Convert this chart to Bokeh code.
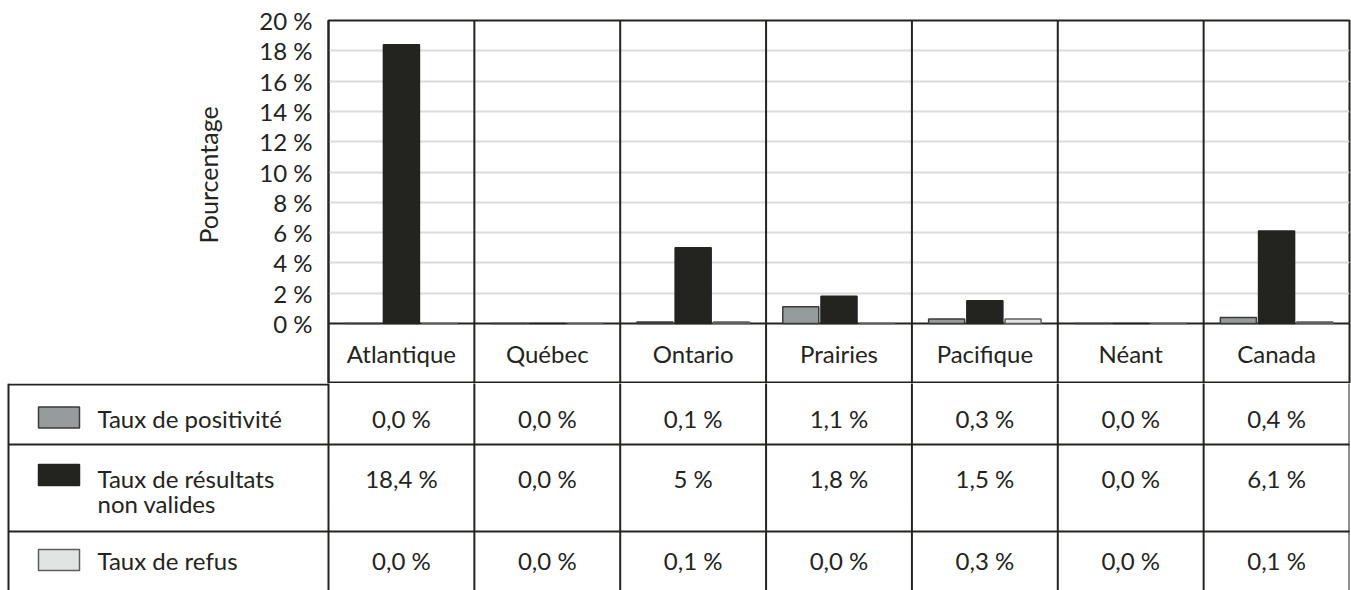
from bokeh.plotting import figure
from bokeh.layouts import column
from bokeh.models import Range1d, FixedTicker, ColumnDataSource, Title
from bokeh.transform import dodge
from bokeh.core.properties import value
from bokeh.embed import file_html
from bokeh.resources import INLINE

# --- data -------------------------------------------------------------
regions = ["Atlantique", "Québec", "Ontario", "Prairies", "Pacifique", "Néant", "Canada"]
taux_positivite = [0.0, 0.0, 0.1, 1.1, 0.3, 0.0, 0.4]
taux_non_valides = [18.4, 0.0, 5.0, 1.8, 1.5, 0.0, 6.1]
taux_refus = [0.0, 0.0, 0.1, 0.0, 0.3, 0.0, 0.1]

lbl_positivite = ["0,0 %", "0,0 %", "0,1 %", "1,1 %", "0,3 %", "0,0 %", "0,4 %"]
lbl_non_valides = ["18,4 %", "0,0 %", "5 %", "1,8 %", "1,5 %", "0,0 %", "6,1 %"]
lbl_refus = ["0,0 %", "0,0 %", "0,1 %", "0,0 %", "0,3 %", "0,0 %", "0,1 %"]

y_ticks = [0, 2, 4, 6, 8, 10, 12, 14, 16, 18, 20]
y_tick_labels = ["0 %", "2 %", "4 %", "6 %", "8 %", "10 %", "12 %", "14 %", "16 %", "18 %", "20 %"]

series_names = ["Taux de positivité", "Taux de résultats\nnon valides", "Taux de refus"]

# --- styling ----------------------------------------------------------
FONT = "Lato"
INK = "#232420"
FILL = ["#969b9b", "#232420", "#e2e4e4"]
EDGE = ["#3a3c3a", "#232420", "#5c5e5c"]
FS = "24px"

n = len(regions)
centers = [i + 0.5 for i in range(n)]
src = ColumnDataSource(dict(x=centers, pos=taux_positivite, inv=taux_non_valides, ref=taux_refus))

# --- bar chart (plot area plus the row of region names) ----------------
W = 1351
LEFT = 328
RIGHT = 2
TOP = 20
PLOT_H = 303            # pixels from 0 % to 20 %
NAME_ROW = 60           # pixels for the region-name row
px_per_pct = PLOT_H / 20.0
y_lo = -NAME_ROW / px_per_pct

chart = figure(width=W, height=TOP + PLOT_H + NAME_ROW, output_backend="svg",
               toolbar_location=None,
               x_range=Range1d(0, n), y_range=Range1d(y_lo, 20),
               x_axis_location=None, min_border_left=LEFT, min_border_right=RIGHT,
               min_border_top=TOP, min_border_bottom=0)
chart.frame_align = False
chart.background_fill_color = "white"
chart.border_fill_color = "white"
chart.outline_line_color = INK
chart.outline_line_width = 2
chart.xgrid.visible = False
chart.ygrid.ticker = FixedTicker(ticks=y_ticks[1:-1])
chart.ygrid.grid_line_color = "#dadcdc"
chart.ygrid.grid_line_width = 2

ax = chart.yaxis[0]
ax.ticker = FixedTicker(ticks=y_ticks)
ax.major_label_overrides = {t: s for t, s in zip(y_ticks, y_tick_labels)}
ax.major_tick_in = 0
ax.major_tick_out = 0
ax.minor_tick_line_color = None
ax.axis_line_color = INK
ax.axis_line_width = 2
ax.major_label_standoff = 16
ax.major_label_text_font = FONT
ax.major_label_text_font_size = FS
ax.major_label_text_color = INK

# vertical axis title, kept level with the 0-20 % span
chart.add_layout(Title(text="Pourcentage", align="left", offset=140, standoff=68,
                       text_font=FONT, text_font_size="25px", text_color=INK,
                       text_font_style="normal"), "left")

# baseline and vertical separators between regions
chart.segment(x0=[0], y0=[0], x1=[n], y1=[0], line_color=INK, line_width=2)
chart.segment(x0=list(range(1, n)), y0=y_lo, x1=list(range(1, n)), y1=20,
              line_color=INK, line_width=2)

bw = 0.247
off = 0.262
for field, dx, k in (("pos", -off, 0), ("inv", 0.0, 1), ("ref", off, 2)):
    chart.vbar(x=dodge("x", dx, range=chart.x_range), top=field, bottom=0, width=bw,
               source=src, fill_color=FILL[k], line_color=EDGE[k], line_width=1.5)

txt = dict(text_font=value(FONT), text_font_size=value(FS), text_color=INK,
           text_align="center", text_baseline="middle")
chart.text(x=centers, y=[y_lo / 2] * n, text=regions, **txt)

# --- data table -------------------------------------------------------
unit = (W - LEFT - RIGHT) / n          # pixels per region column
tbl_left = 6
TBL_H = 590 - (TOP + PLOT_H + NAME_ROW)
table = figure(width=W, height=TBL_H, output_backend="svg", toolbar_location=None,
               x_range=Range1d(-(LEFT - tbl_left) / unit, n), y_range=Range1d(TBL_H, 0),
               x_axis_location=None, y_axis_location=None,
               min_border_left=tbl_left, min_border_right=RIGHT,
               min_border_top=0, min_border_bottom=0)
table.frame_align = False
table.outline_line_color = None
table.grid.visible = False
table.background_fill_color = "white"
table.border_fill_color = "white"

x_edge = -(LEFT - 8) / unit
# vertical rules
table.segment(x0=list(range(0, n + 1)), y0=-5, x1=list(range(0, n + 1)), y1=TBL_H + 5,
              line_color=INK, line_width=2)
table.segment(x0=[x_edge], y0=[0], x1=[x_edge], y1=[TBL_H + 5], line_color=INK, line_width=2)
# horizontal rules
table.segment(x0=[x_edge], y0=[1], x1=[0], y1=[1], line_color=INK, line_width=2)
table.segment(x0=x_edge, y0=[61, 148], x1=n + 0.1, y1=[61, 148], line_color=INK, line_width=2)

table.text(x=centers, y=[35] * n, text=lbl_positivite, **txt)
table.text(x=centers, y=[95] * n, text=lbl_non_valides, **txt)
table.text(x=centers, y=[177] * n, text=lbl_refus, **txt)

# legend swatches and series names
sw_x = (58.5 - LEFT) / unit
sw_w = 41 / unit
table.rect(x=[sw_x] * 3, y=[34, 91.5, 176.5], width=sw_w, height=21,
           fill_color=FILL, line_color=EDGE, line_width=1.5)
name_x = (97 - LEFT) / unit
leg = dict(txt)
leg["text_align"] = "left"
table.text(x=[name_x] * 3, y=[35, 107.5, 177], text=series_names,
           text_line_height=0.86, **leg)

layout = column(chart, table, spacing=0)
open("out.html", "w").write(file_html(layout, INLINE))
